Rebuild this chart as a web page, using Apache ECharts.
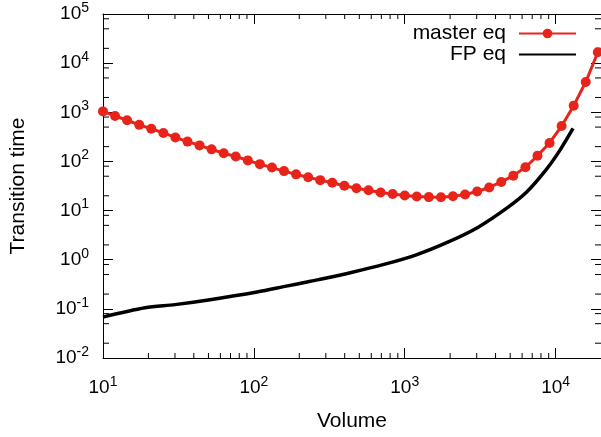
<!DOCTYPE html>
<html>
<head>
<meta charset="utf-8">
<script src="https://cdn.jsdelivr.net/npm/echarts@6/dist/echarts.min.js"></script>
<style>
  html, body { margin: 0; padding: 0; background: #fff; }
  #chart { width: 601px; height: 437px; }
</style>
</head>
<body>
<div id="chart"></div>
<script>
// master equation points (volume, transition time)
var volume = [10, 12.02, 14.45, 17.38, 20.89, 25.12, 30.2, 36.31, 43.65, 52.48,
  63.1, 75.86, 91.2, 109.6, 131.8, 158.5, 190.5, 229.1, 275.4, 331.1,
  398.1, 478.6, 575.4, 691.8, 831.8, 1000, 1202, 1445, 1738, 2089,
  2512, 3020, 3631, 4365, 5248, 6310, 7586, 9120, 10965, 13183, 15849, 19055];
var masterEq = [1042, 840, 688, 555, 463, 380, 308, 253, 212, 176,
  147, 126, 105, 88, 75, 63.5, 54.6, 47.6, 41.6, 36.7,
  32, 28.5, 26, 23.3, 21.7, 20.3, 19.4, 18.8, 18.6, 19.6,
  21.3, 24.4, 29.5, 38.3, 51.4, 76, 130, 238, 525, 1365, 4130, 16700];

// Fokker-Planck curve
var fpVolume = [10, 19, 30, 50, 105, 164, 221, 270, 443, 728, 1194, 1963, 3068, 4797, 6457, 8690, 10590, 13050];
var fpEq = [0.068, 0.105, 0.122, 0.152, 0.221, 0.290, 0.348, 0.394, 0.550, 0.802, 1.26, 2.33, 4.60, 11.5, 24.2, 69, 162, 470];

// minor tick values
var xMinorTicks = [20, 30, 40, 50, 60, 70, 80, 90, 200, 300, 400, 500, 600, 700, 800, 900,
  2000, 3000, 4000, 5000, 6000, 7000, 8000, 9000];
var yMinorTicks = [0.02, 0.05, 0.08, 0.2, 0.5, 0.8, 2, 5, 8, 20, 50, 80, 200, 500, 800,
  2000, 5000, 8000, 20000, 50000, 80000];

var FONT = 'Liberation Sans';
var RED = '#e8241a';

function powLabel(v) {
  var e = Math.round(Math.log10(v));
  if (Math.abs(Math.log10(v) - e) > 1e-6) return '';
  return '{b|10}{e|' + e + '}';
}
var labelRich = {
  b: { fontSize: 19, fontFamily: FONT, color: '#000' },
  e: { fontSize: 14, fontFamily: FONT, color: '#000', padding: [0, 0, 12, 0] }
};

function axisBase(extra) {
  var o = {
    type: 'log',
    logBase: 10,
    axisLine: { show: true, lineStyle: { color: '#000', width: 1 } },
    axisTick: { show: true, inside: true, length: 10, lineStyle: { color: '#000' } },
    splitLine: { show: false },
    minorTick: { show: false },
    axisLabel: { show: false }
  };
  for (var k in extra) o[k] = extra[k];
  return o;
}

var chart = echarts.init(document.getElementById('chart'));
chart.setOption({
  animation: false,
  grid: { left: 92, top: 14, right: -2, bottom: 69 },
  legend: {
    data: ['master eq', { name: 'FP eq', itemStyle: { opacity: 0 } }],
    orient: 'vertical',
    right: 24,
    top: 23,
    align: 'right',
    padding: 0,
    itemGap: 0,
    itemWidth: 57,
    itemHeight: 12,
    textStyle: { fontSize: 21, fontFamily: FONT, color: '#000', lineHeight: 20, padding: [0, 8, 0, 0] }
  },
  xAxis: [
    axisBase({
      min: 10, max: 20000,
      name: 'Volume', nameLocation: 'middle', nameGap: 53,
      nameTextStyle: { fontSize: 21, fontFamily: FONT, color: '#000' },
      axisLabel: { show: true, margin: 17, formatter: powLabel, rich: labelRich, showMaxLabel: false }
    }),
    axisBase({ min: 10, max: 20000, position: 'top' })
  ],
  yAxis: [
    axisBase({
      min: 0.01, max: 100000,
      name: 'Transition time', nameLocation: 'middle', nameGap: 74,
      nameTextStyle: { fontSize: 21, fontFamily: FONT, color: '#000' },
      axisLabel: { show: true, margin: 14, formatter: powLabel, rich: labelRich }
    }),
    axisBase({ min: 0.01, max: 100000, position: 'right' })
  ],
  series: [
    {
      name: 'master eq',
      type: 'line',
      data: volume.map(function (v, i) { return [v, masterEq[i]]; }),
      symbol: 'circle',
      symbolSize: 10,
      showSymbol: true,
      color: RED,
      lineStyle: { color: RED, width: 3 },
      itemStyle: { color: RED },
      z: 3
    },
    {
      name: 'FP eq',
      type: 'line',
      data: fpVolume.map(function (v, i) { return [v, fpEq[i]]; }),
      symbol: 'none',
      smooth: 0.3,
      color: '#000',
      lineStyle: { color: '#000', width: 3.5 },
      z: 2
    },
    {
      // minor ticks on bottom and top axes
      type: 'custom',
      silent: true,
      data: xMinorTicks.map(function (v) { return [v, 1]; }),
      renderItem: function (params, api) {
        var cs = params.coordSys;
        var x = api.coord([api.value(0), 1])[0];
        var st = { stroke: '#000', lineWidth: 1 };
        return { type: 'group', children: [
          { type: 'line', shape: { x1: x, y1: cs.y + cs.height, x2: x, y2: cs.y + cs.height - 5 }, style: st },
          { type: 'line', shape: { x1: x, y1: cs.y, x2: x, y2: cs.y + 5 }, style: st }
        ] };
      }
    },
    {
      // minor ticks on left and right axes
      type: 'custom',
      silent: true,
      data: yMinorTicks.map(function (v) { return [100, v]; }),
      renderItem: function (params, api) {
        var cs = params.coordSys;
        var y = api.coord([100, api.value(1)])[1];
        var st = { stroke: '#000', lineWidth: 1 };
        return { type: 'group', children: [
          { type: 'line', shape: { x1: cs.x, y1: y, x2: cs.x + 6, y2: y }, style: st },
          { type: 'line', shape: { x1: cs.x + cs.width, y1: y, x2: cs.x + cs.width - 6, y2: y }, style: st }
        ] };
      }
    }
  ]
});
</script>
</body>
</html>
